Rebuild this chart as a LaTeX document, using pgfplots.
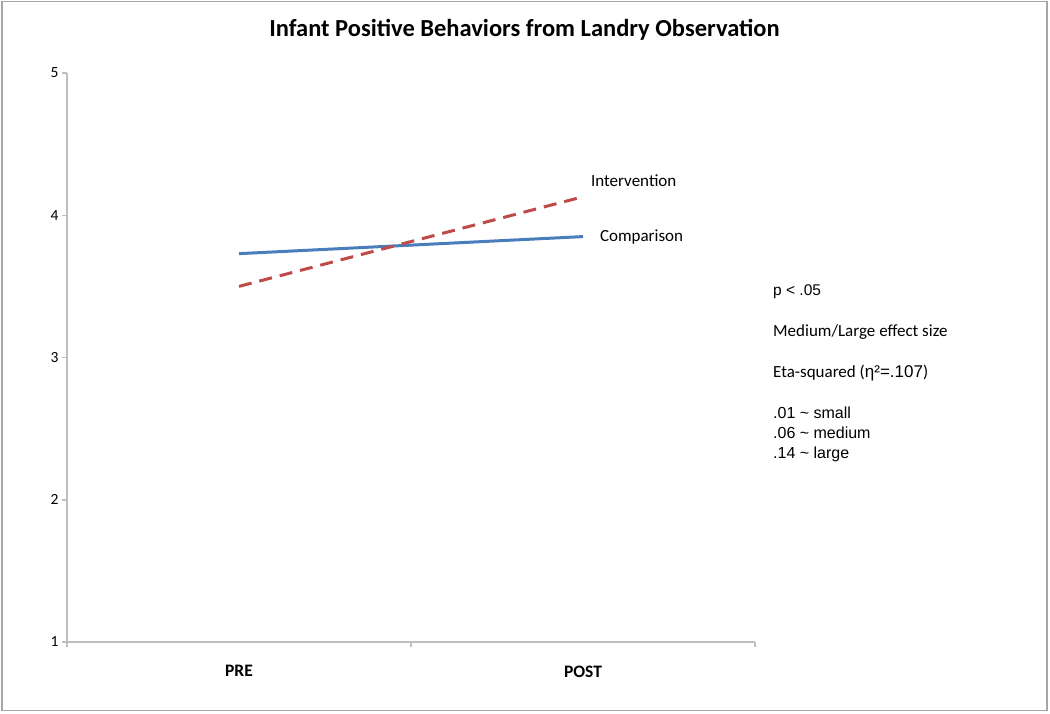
\documentclass[border=0pt]{standalone}
\usepackage{fontspec}
\setmainfont{Carlito}
\newfontfamily\arial{Liberation Sans}
\usepackage{pgfplots}
\pgfplotsset{compat=1.18}
\definecolor{cblue}{HTML}{4A7EBB}
\definecolor{cred}{HTML}{BE4B48}
\definecolor{axgray}{HTML}{BFBFBF}
\definecolor{framegray}{HTML}{A6A6A6}
\begin{document}
\begin{tikzpicture}[x=1pt,y=1pt]
\useasboundingbox (0,0) rectangle (1050,713);
\draw[line width=1.5pt, framegray] (2,2.5) rectangle (1047,711.5);
\node[font=\fontsize{24.5}{28}\selectfont\bfseries] at (524.5,683) {Infant Positive Behaviors from Landry Observation};
\begin{axis}[at={(67pt,71pt)}, anchor=south west, scale only axis,
  width=688pt, height=569pt,
  xmin=0, xmax=2, ymin=1, ymax=5,
  axis lines=left, axis line style={-, axgray, line width=2pt},
  xtick={0.5,1.5}, xticklabels={PRE,POST},
  x tick label style={font=\fontsize{17.5}{20}\selectfont\bfseries, yshift=-15pt},
  major x tick style={draw=none},
  minor xtick={0,1,2},
  ytick={1,2,3,4,5},
  tick style={axgray, line width=1.5pt},
  tick align=outside, major tick length=5pt, minor tick length=5pt,
  y tick label style={font=\fontsize{15.5}{18}\selectfont},
  /pgf/number format/assume math mode=true,
  clip=false]
\addplot[cblue, line width=3pt] coordinates {(0.5,3.73) (1.5,3.85)};
\addplot[cred, line width=3pt, dash pattern=on 13pt off 8pt] coordinates {(0.5,3.50) (1.5,4.13)};
\node[anchor=west, font=\fontsize{17}{20}\selectfont, inner sep=0pt] at (axis cs:1.523,4.24) {Intervention};
\node[anchor=west, font=\fontsize{17}{20}\selectfont, inner sep=0pt] at (axis cs:1.549,3.847) {Comparison};
\end{axis}
\begin{scope}[every node/.style={anchor=west, inner sep=0pt}]
\node[font=\arial\fontsize{15.5}{18}\selectfont] at (773,{713-292}) {p < .05};
\node[font=\fontsize{17}{20}\selectfont] at (773,{713-332}) {Medium/Large effect size};
\node[font=\fontsize{17}{20}\selectfont] at (773,{713-373}) {Eta-squared ({\arial η²=.107})};
\node[font=\arial\fontsize{16}{18}\selectfont] at (773,{713-413}) {.01 \textasciitilde{} small};
\node[font=\arial\fontsize{16}{18}\selectfont] at (773,{713-433}) {.06 \textasciitilde{} medium};
\node[font=\arial\fontsize{16}{18}\selectfont] at (773,{713-454}) {.14 \textasciitilde{} large};
\end{scope}
\end{tikzpicture}
\end{document}
